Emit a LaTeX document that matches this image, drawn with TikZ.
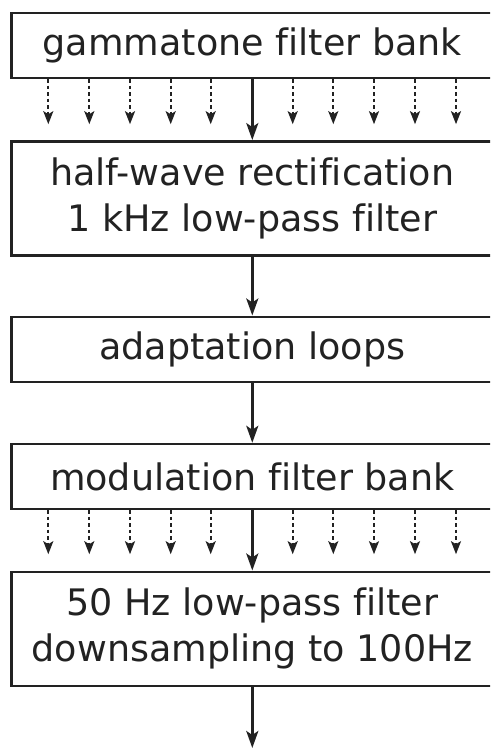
\documentclass[tikz,border=0pt]{standalone}
\usepackage{fontspec}
\setmainfont[Ligatures={NoCommon}]{DejaVu Sans}
\usetikzlibrary{arrows.meta}
\definecolor{ink}{HTML}{222222}
\begin{document}
\begin{tikzpicture}[x=1pt,y=-1pt,
  stage/.style={draw=ink,line width=2.4pt,rectangle,minimum width=481.6pt,inner sep=0pt,
    text=ink,align=center,font=\fontsize{36.5}{46}\selectfont},
  mainarrow/.style={draw=ink,line width=2.6pt,-{Stealth[length=17pt,width=12pt,inset=4pt]}},
  subarrow/.style={draw=ink,line width=2pt,dash pattern=on 3.5pt off 3pt,-{Stealth[length=13pt,width=10pt,inset=3pt]}}]
\useasboundingbox (0,0) rectangle (490,749);
\clip (0,0) rectangle (490,749);
\node[stage,minimum height=65pt] (g) at (252.3,45.5) {gammatone filter bank};
\node[stage,minimum height=114pt] (h) at (252.3,198.3) {half-wave rectification\\1 kHz low-pass filter};
\node[stage,minimum height=65pt] (a) at (252.3,349.2) {adaptation loops};
\node[stage,minimum height=65pt] (m) at (252.3,476.5) {modulation filter bank};
\node[stage,minimum height=114pt] (l) at (252.3,628.7) {50 Hz low-pass filter\\downsampling to 100Hz};
\coordinate (out) at (252.3,748);
\draw[mainarrow] (g) -- (h);
\draw[mainarrow] (h) -- (a);
\draw[mainarrow] (a) -- (m);
\draw[mainarrow] (m) -- (l);
\draw[mainarrow] (l) -- (out);
\foreach \x in {48.3,89.3,130,170.7,210.7,292.7,333.3,374,415,456}{
  \draw[subarrow] (g.south -| \x,0) -- ++(0,45);
  \draw[subarrow] (m.south -| \x,0) -- ++(0,44);
}
\end{tikzpicture}
\end{document}
